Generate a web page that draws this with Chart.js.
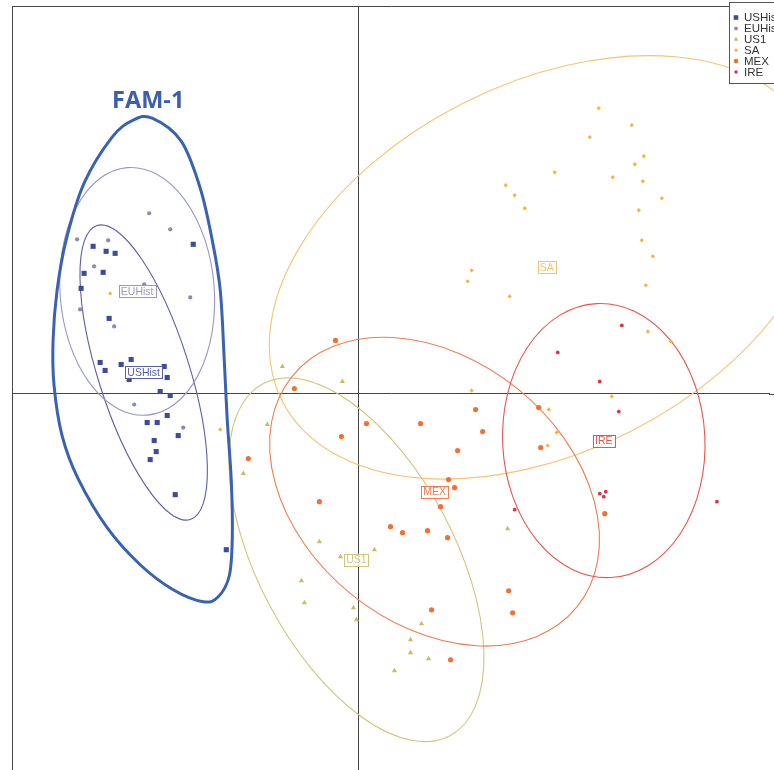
<!DOCTYPE html>
<html lang="en">
<head>
<meta charset="UTF-8">
<title>FAM-1</title>
<script src="https://cdn.jsdelivr.net/npm/chart.js"></script>
<style>
  html, body { margin: 0; padding: 0; background: #fff; overflow: hidden; }
</style>
</head>
<body>
<canvas id="chart" width="774" height="770"></canvas>
<script>
// groups, in legend order
const groups = ['USHist', 'EUHist', 'US1', 'SA', 'MEX', 'IRE'];

// scores per group [axis1, axis2]
const usHist = [[-2.65,1.47],[-2.52,1.42],[-2.43,1.40],[-1.65,1.49],[-2.74,1.20],[-2.55,1.21],[-2.77,1.05],
  [-2.49,0.75],[-2.58,0.31],[-2.37,0.29],[-2.53,0.23],[-2.27,0.34],[-1.94,0.27],[-1.91,0.16],[-2.29,0.14],
  [-1.98,0.02],[-1.88,-0.02],[-1.91,-0.22],[-2.11,-0.29],[-2.01,-0.29],[-1.80,-0.42],[-2.04,-0.47],
  [-2.02,-0.58],[-2.08,-0.66],[-1.83,-1.01],[-1.32,-1.56]];
const euHist = [[-2.09,1.80],[-1.88,1.64],[-2.81,1.54],[-2.50,1.53],[-2.64,1.27],[-2.14,1.09],[-1.68,0.96],
  [-2.78,0.84],[-2.44,0.67],[-2.24,-0.11],[-1.75,-0.34]];
const us1 = [[-0.76,0.27],[-0.16,0.12],[-0.91,-0.31],[-1.15,-0.80],[-0.39,-1.48],[0.16,-1.56],[-0.18,-1.63],
  [-0.57,-1.87],[-0.54,-2.09],[-0.05,-2.14],[-0.02,-2.26],[0.63,-2.30],[0.52,-2.46],[0.52,-2.59],[0.70,-2.65],
  [0.36,-2.77],[1.49,-1.35]];
const sa = [[2.40,2.85],[2.73,2.68],[2.31,2.56],[2.85,2.37],[2.76,2.29],[1.96,2.21],[2.54,2.16],[2.84,2.12],
  [1.47,2.08],[1.56,1.98],[3.03,1.95],[1.66,1.85],[2.80,1.83],[2.83,1.53],[2.94,1.37],[1.13,1.23],[1.09,1.12],
  [2.87,1.08],[1.51,0.97],[2.89,0.62],[3.12,0.52],[2.53,-0.03],[1.90,-0.16],[1.98,-0.39],[1.89,-0.52],
  [1.13,0.03],[-1.38,-0.36],[-2.48,1.00]];
const mex = [[-0.23,0.53],[-0.64,0.05],[0.08,-0.30],[0.62,-0.30],[1.17,-0.16],[-0.17,-0.43],[-1.10,-0.65],
  [0.99,-0.57],[0.90,-0.86],[0.96,-0.94],[0.82,-1.13],[-0.39,-1.08],[0.32,-1.33],[0.44,-1.39],[0.69,-1.37],
  [0.89,-1.44],[1.50,-1.97],[1.54,-2.19],[0.73,-2.16],[0.92,-2.66],[1.80,-0.14],[1.24,-0.38],[1.82,-0.54],
  [2.46,-1.20]];
const ire = [[2.63,0.68],[1.99,0.41],[2.41,0.12],[2.60,-0.18],[2.41,-1.00],[2.47,-0.98],[2.45,-1.03],
  [3.58,-1.08],[1.56,-1.16]];

// inertia ellipses: centre, semi axes, angle (deg)
const ellipseCenters = [[-2.145,0.21],[-2.21,1.02],[-0.02,-1.66],[1.88,1.26],[0.76,-0.98],[2.45,-0.47]];
const ellipseAxes = [[1.54,0.455],[0.77,1.24],[1.99,0.98],[2.96,1.84],[1.83,1.32],[1.01,1.37]];
const ellipseAngles = [-72.4, 4.5, -62, 26.7, -39, 3];

// hand drawn FAM-1 outline
const famLabel = 'FAM-1';
const famLabelPos = [-2.10, 2.92];
const famOutline = [[-2.06,2.75],[-1.77,2.52],[-1.58,2.05],[-1.46,1.53],[-1.38,1.03],[-1.34,0.33],[-1.31,-0.27],
  [-1.27,-0.87],[-1.26,-1.44],[-1.29,-1.82],[-1.40,-2.03],[-1.55,-2.08],[-1.85,-1.96],[-2.18,-1.71],
  [-2.51,-1.34],[-2.80,-0.85],[-2.96,-0.42],[-3.04,0.08],[-3.05,0.53],[-3.01,1.03],[-2.92,1.53],
  [-2.74,2.10],[-2.46,2.56],[-2.25,2.73]];

const seriesData = [usHist, euHist, us1, sa, mex, ire];
const pointColors = ['#3b4b9d', '#8a8ab2', '#c9ba64', '#f4b640', '#ef7234', '#df3048'];
const ellipseColors = ['#5d5ea8', '#9898c4', '#d4c47c', '#f6c470', '#ef7c52', '#e9554e'];
const pointStyles = ['rect', 'circle', 'triangle', 'rectRot', 'circle', 'circle'];
const pointSizes = [3.6, 2.1, 3, 2.2, 2.6, 1.9];

const overlay = {
  id: 'overlay',
  beforeDatasetsDraw(chart) {
    const { ctx, chartArea, scales: { x, y } } = chart;
    ctx.save();
    ctx.beginPath();
    ctx.rect(chartArea.left, chartArea.top, chart.width - chartArea.left, chart.height - chartArea.top);
    ctx.clip();

    // carry frame and zero lines on to the canvas edge
    const x0 = Math.round(x.getPixelForValue(0)) + 0.5, y0 = Math.round(y.getPixelForValue(0)) + 0.5;
    ctx.strokeStyle = '#444';
    ctx.lineWidth = 1;
    ctx.beginPath();
    ctx.moveTo(x0, chartArea.bottom - 1); ctx.lineTo(x0, chart.height);
    ctx.moveTo(chartArea.right - 1, y0); ctx.lineTo(chart.width, y0);
    ctx.moveTo(chartArea.left + 0.5, chartArea.bottom - 1); ctx.lineTo(chartArea.left + 0.5, chart.height);
    ctx.moveTo(chartArea.right - 1, chartArea.top + 0.5); ctx.lineTo(chart.width, chartArea.top + 0.5);
    ctx.stroke();

    groups.forEach((g, i) => {
      const [cx, cy] = ellipseCenters[i];
      const [a, b] = ellipseAxes[i];
      const px = x.getPixelForValue(cx), py = y.getPixelForValue(cy);
      const rx = Math.abs(x.getPixelForValue(cx + a) - px);
      const ry = Math.abs(y.getPixelForValue(cy + b) - py);
      ctx.beginPath();
      ctx.ellipse(px, py, rx, ry, -ellipseAngles[i] * Math.PI / 180, 0, 2 * Math.PI);
      ctx.strokeStyle = ellipseColors[i];
      ctx.lineWidth = 1.1;
      ctx.stroke();
    });
    ctx.restore();
  },
  afterDatasetsDraw(chart) {
    const { ctx, scales: { x, y } } = chart;
    ctx.save();

    // group labels at ellipse centres
    ctx.font = '10.5px "Liberation Sans", Arial, sans-serif';
    ctx.textAlign = 'center';
    ctx.textBaseline = 'middle';
    groups.forEach((g, i) => {
      const px = x.getPixelForValue(ellipseCenters[i][0]);
      const py = y.getPixelForValue(ellipseCenters[i][1]);
      const w = ctx.measureText(g).width + 4;
      const h = 12;
      ctx.fillStyle = 'rgba(255,255,255,0.85)';
      ctx.fillRect(px - w / 2, py - h / 2, w, h);
      ctx.strokeStyle = ellipseColors[i];
      ctx.lineWidth = 1;
      ctx.strokeRect(Math.round(px - w / 2) + 0.5, Math.round(py - h / 2) + 0.5, Math.round(w), h);
      ctx.fillStyle = ellipseColors[i];
      ctx.fillText(g, px, py + 0.5);
    });

    // FAM-1 outline, closed smooth curve
    const pts = famOutline.map(p => [x.getPixelForValue(p[0]), y.getPixelForValue(p[1])]);
    const n = pts.length;
    ctx.beginPath();
    ctx.moveTo(pts[0][0], pts[0][1]);
    for (let i = 0; i < n; i++) {
      const p0 = pts[(i - 1 + n) % n], p1 = pts[i], p2 = pts[(i + 1) % n], p3 = pts[(i + 2) % n];
      ctx.bezierCurveTo(
        p1[0] + (p2[0] - p0[0]) / 6, p1[1] + (p2[1] - p0[1]) / 6,
        p2[0] - (p3[0] - p1[0]) / 6, p2[1] - (p3[1] - p1[1]) / 6,
        p2[0], p2[1]);
    }
    ctx.closePath();
    ctx.strokeStyle = '#3a62b3';
    ctx.lineWidth = 3;
    ctx.stroke();

    ctx.font = 'bold 23.5px "Open Sans", sans-serif';
    ctx.fillStyle = '#3c60ae';
    ctx.textAlign = 'center';
    ctx.textBaseline = 'middle';
    ctx.fillText(famLabel, x.getPixelForValue(famLabelPos[0]), y.getPixelForValue(famLabelPos[1]));

    // legend box, top right
    ctx.fillStyle = '#fff';
    ctx.fillRect(729, 2, 60, 81);
    ctx.strokeStyle = '#555';
    ctx.lineWidth = 1;
    ctx.strokeRect(729.5, 2.5, 60, 81);
    ctx.font = '11.5px "Liberation Sans", Arial, sans-serif';
    ctx.textAlign = 'left';
    ctx.textBaseline = 'middle';
    chart.data.datasets.forEach((ds, i) => {
      const ly = 17.5 + i * 10.9;
      ctx.fillStyle = ds.backgroundColor;
      ctx.strokeStyle = ds.backgroundColor;
      Chart.helpers.drawPoint(ctx, { pointStyle: ds.pointStyle, radius: ds.pointRadius * 0.9, rotation: 0, borderWidth: 0 }, 736, ly);
      ctx.fillStyle = '#333';
      ctx.fillText(ds.label, 744, ly + 0.5);
    });
    ctx.restore();
  }
};

new Chart(document.getElementById('chart'), {
  type: 'scatter',
  data: {
    datasets: groups.map((g, i) => ({
      label: g,
      data: seriesData[i].map(p => ({ x: p[0], y: p[1] })),
      backgroundColor: pointColors[i],
      borderColor: pointColors[i],
      borderWidth: 0,
      pointStyle: pointStyles[i],
      pointRadius: pointSizes[i]
    }))
  },
  options: {
    responsive: false,
    animation: false,
    events: [],
    layout: { padding: { left: 12, top: 6, right: 0, bottom: 0 } },
    plugins: { legend: { display: false }, tooltip: { enabled: false } },
    scales: {
      x: {
        type: 'linear', position: 'top', min: -3.46, max: 4.11,
        afterBuildTicks: s => { s.ticks = [{ value: 0 }]; },
        ticks: { display: false },
        grid: { color: '#444', lineWidth: 1, drawTicks: false },
        border: { display: true, color: '#444', width: 1 }
      },
      y: {
        type: 'linear', position: 'left', min: -3.72, max: 3.87,
        afterBuildTicks: s => { s.ticks = [{ value: 0 }]; },
        ticks: { display: false },
        grid: { color: '#444', lineWidth: 1, drawTicks: false },
        border: { display: true, color: '#444', width: 1 }
      }
    }
  },
  plugins: [overlay]
});
</script>
</body>
</html>
